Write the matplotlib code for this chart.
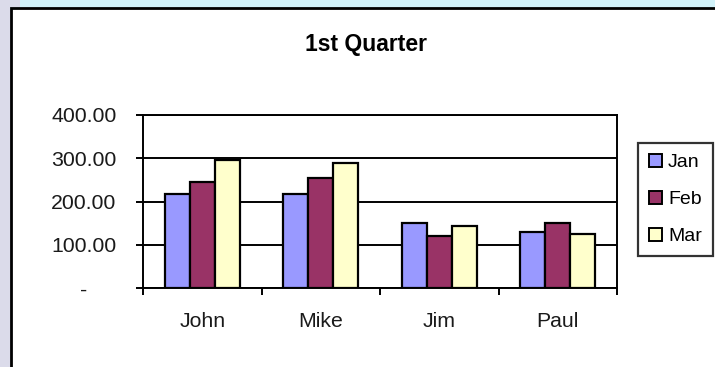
import numpy as np
import matplotlib
matplotlib.use("Agg")
import matplotlib.pyplot as plt
from matplotlib.patches import Rectangle, Patch

categories = ["John", "Mike", "Jim", "Paul"]
series_names = ["Jan", "Feb", "Mar"]
jan = [217, 218, 150, 130]
feb = [245, 254, 120, 150]
mar = [296, 289, 144, 126]
y_ticks = [0, 100, 200, 300, 400]
y_tick_labels = ["-     ", "100.00", "200.00", "300.00", "400.00"]
colors = ["#9999FF", "#993366", "#FFFFCC"]
title = "1st Quarter"

plt.rcParams['font.family'] = ['Liberation Sans', 'DejaVu Sans']

W, H = 715, 367
fig = plt.figure(figsize=(W / 100, H / 100), dpi=100)

# background gradient
bg = fig.add_axes([0, 0, 1, 1], zorder=-10)
img = np.ones((H, W, 3))
top = np.array([0.82, 0.95, 0.98])
left = np.array([0.86, 0.86, 0.92])
img[:, :] = top
img[:, :20] = left
bg.imshow(img, aspect='auto', extent=[0, W, H, 0])
bg.set_xlim(0, W)
bg.set_ylim(H, 0)
bg.axis('off')
bg.add_patch(Rectangle((11, 8), W, H, facecolor='white', edgecolor='black', linewidth=2))

ax = fig.add_axes([143 / W, 1 - 288 / H, (617 - 143) / W, (288 - 115) / H])
x = np.arange(len(categories))
w = 0.211
for i, (vals, c, name) in enumerate(zip([jan, feb, mar], colors, series_names)):
    ax.bar(x + (i - 1) * w, vals, width=w, color=c, edgecolor='black', linewidth=1.6, label=name, zorder=3)

ax.set_xlim(-0.5, len(categories) - 0.5)
ax.set_ylim(0, 400)
ax.set_yticks(y_ticks)
ax.set_yticklabels(y_tick_labels)
ax.yaxis.grid(True, color='black', linewidth=1.4, zorder=1)
ax.set_axisbelow(True)
ax.set_xticks(np.arange(-0.5, len(categories), 1.0))
ax.set_xticklabels([])
ax.set_xticks(x, minor=True)
ax.set_xticklabels(categories, minor=True)
ax.tick_params(axis='x', which='major', direction='out', length=5, width=1.4, color='black')
ax.tick_params(axis='x', which='minor', length=0, pad=17, labelsize=15.3, labelcolor='#1a1a1a')
ax.tick_params(axis='y', direction='out', length=5, width=1.4, pad=14, labelsize=15.3, labelcolor='#1a1a1a')
for s in ax.spines.values():
    s.set_linewidth(1.4)
    s.set_color('black')

fig.text(366 / W, 1 - 45 / H, title, ha='center', va='center', fontsize=16.5, fontweight='bold')

handles = [Patch(facecolor=c, edgecolor='black', linewidth=1.4) for c in colors]
leg = fig.legend(handles, series_names, loc='upper left', bbox_to_anchor=(638 / W, 1 - 143 / H),
                 frameon=True, fancybox=False, edgecolor='black', fontsize=14,
                 handlelength=0.7, handleheight=0.7, handletextpad=0.3, labelspacing=1.0,
                 borderpad=0.55, borderaxespad=0)
leg.get_frame().set_linewidth(1.6)

fig.savefig("out.png", dpi=100)
